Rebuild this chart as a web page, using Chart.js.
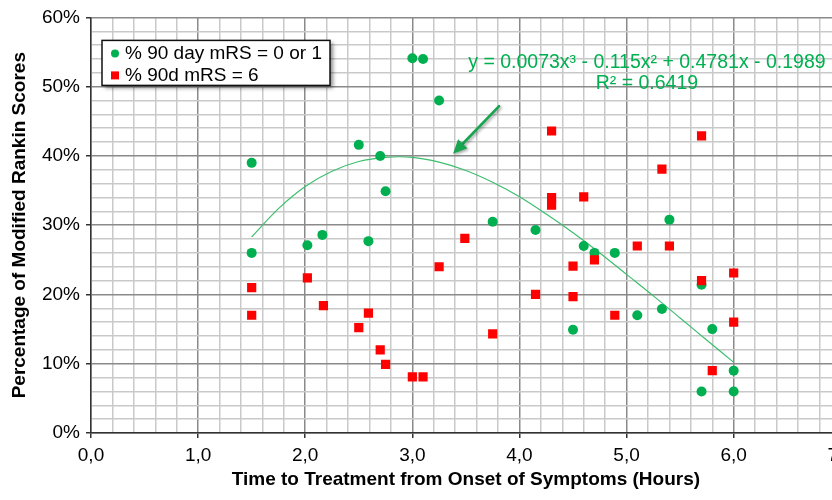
<!DOCTYPE html>
<html><head><meta charset="utf-8">
<script src="https://cdn.jsdelivr.net/npm/chart.js@4.4.1/dist/chart.umd.min.js"></script>
<style>
html,body{margin:0;padding:0;background:#fff;overflow:hidden;width:832px;height:500px;}
#wrap{position:relative;width:860px;height:500px;}
canvas{display:block;}
</style></head><body>
<div id="wrap"><canvas id="c" width="860" height="500"></canvas></div>
<script>
// ---- data ----
const seriesNames = ['% 90 day mRS = 0 or 1', '% 90d mRS = 6'];
const goodX = [1.5, 1.5, 2.02, 2.16, 2.5, 2.7, 2.75, 2.59, 3.0, 3.1, 3.25, 3.75, 4.15, 4.6, 4.7, 4.89, 4.5, 5.1, 5.33, 5.4, 5.7, 5.8, 6.0, 5.7, 6.0];
const goodY = [39.0, 26.0, 27.1, 28.6, 41.6, 40.0, 34.9, 27.7, 54.1, 54.0, 48.0, 30.5, 29.3, 27.0, 26.0, 26.0, 14.9, 17.0, 17.9, 30.8, 21.4, 15.0, 9.0, 6.0, 6.0];
const deathX = [1.5, 1.5, 2.02, 2.17, 2.5, 2.59, 2.7, 2.75, 3.0, 3.1, 3.49, 3.25, 3.75, 4.15, 4.5, 4.5, 4.3, 4.3, 4.3, 4.6, 5.33, 5.7, 5.1, 5.4, 4.7, 4.89, 5.7, 6.0, 6.0, 5.8];
const deathY = [21.0, 17.0, 22.4, 18.4, 15.2, 17.3, 12.0, 9.9, 8.1, 8.1, 28.1, 24.0, 14.3, 20.0, 24.1, 19.7, 43.6, 34.0, 32.9, 34.1, 38.1, 42.9, 27.0, 27.0, 25.0, 17.0, 22.0, 23.1, 16.0, 9.0];
const trendX = [1.5, 1.75, 2.0, 2.25, 2.5, 2.75, 3.0, 3.25, 3.5, 3.75, 4.0, 4.25, 4.5, 4.75, 5.0, 5.25, 5.5, 5.75, 6.0];
const trendY = [28.3, 32.4, 35.6, 37.8, 39.2, 39.8, 39.8, 39.1, 37.9, 36.2, 34.1, 31.6, 28.9, 26.0, 22.9, 19.8, 16.6, 13.4, 10.2];
const xTickLabels = ['0,0', '1,0', '2,0', '3,0', '4,0', '5,0', '6,0', '7,0'];
const yTickLabels = ['0%', '10%', '20%', '30%', '40%', '50%', '60%'];
const xTitle = 'Time to Treatment from Onset of Symptoms (Hours)';
const yTitle = 'Percentage of Modified Rankin Scores';
const equationText = 'y = 0.0073x³ - 0.115x² + 0.4781x - 0.1989';
const r2Text = 'R² = 0.6419';
const equationAnchor = [5.19, 53.4];
const r2Anchor = [5.19, 50.4];
const arrowTail = [3.81, 47.2];
const arrowHead = [3.38, 40.3];

const toPts = (xs, ys) => xs.map((x, i) => ({x: x, y: ys[i]}));
const GREEN = '#00B050';
const RED = '#FF0000';
const FONT = '"Liberation Sans", Arial, sans-serif';

const isMajorX = v => Math.abs(v - Math.round(v)) < 1e-6;
const isMajorY = v => Math.abs(v / 10 - Math.round(v / 10)) < 1e-6;

const overlay = {
  id: 'overlay',
  afterDatasetsDraw(chart) {
    const ctx = chart.ctx, xs = chart.scales.x, ys = chart.scales.y, a = chart.chartArea;
    // equation
    ctx.save();
    ctx.fillStyle = GREEN;
    ctx.font = '19.5px ' + FONT;
    ctx.textAlign = 'center';
    ctx.textBaseline = 'middle';
    ctx.fillText(equationText, xs.getPixelForValue(equationAnchor[0]), ys.getPixelForValue(equationAnchor[1]));
    ctx.fillText(r2Text, xs.getPixelForValue(r2Anchor[0]), ys.getPixelForValue(r2Anchor[1]));
    ctx.restore();
    // arrow
    const tx = xs.getPixelForValue(arrowTail[0]), ty = ys.getPixelForValue(arrowTail[1]);
    const hx = xs.getPixelForValue(arrowHead[0]), hy = ys.getPixelForValue(arrowHead[1]);
    const ang = Math.atan2(hy - ty, hx - tx);
    const hl = 14, hw = 6.5;
    const bx = hx - hl * Math.cos(ang), by = hy - hl * Math.sin(ang);
    ctx.save();
    ctx.shadowColor = 'rgba(0,0,0,0.35)';
    ctx.shadowBlur = 3; ctx.shadowOffsetX = 1.5; ctx.shadowOffsetY = 1.5;
    ctx.strokeStyle = '#17A550'; ctx.fillStyle = '#17A550';
    ctx.lineWidth = 2.6; ctx.lineCap = 'round';
    ctx.beginPath(); ctx.moveTo(tx, ty); ctx.lineTo(bx, by); ctx.stroke();
    ctx.beginPath();
    ctx.moveTo(hx, hy);
    ctx.lineTo(bx + hw * Math.sin(ang), by - hw * Math.cos(ang));
    ctx.lineTo(bx - hw * Math.sin(ang), by + hw * Math.cos(ang));
    ctx.closePath(); ctx.fill();
    ctx.restore();
    // legend box
    const lx = a.left + 11, ly = a.top + 23, lw = 228, lh = 45;
    ctx.save();
    ctx.shadowColor = 'rgba(0,0,0,0.45)';
    ctx.shadowBlur = 4; ctx.shadowOffsetX = 3; ctx.shadowOffsetY = 3;
    ctx.fillStyle = '#fff';
    ctx.fillRect(lx, ly, lw, lh);
    ctx.restore();
    ctx.save();
    ctx.strokeStyle = '#111'; ctx.lineWidth = 1.5;
    ctx.strokeRect(lx, ly, lw, lh);
    ctx.fillStyle = GREEN;
    ctx.beginPath(); ctx.arc(lx + 13, ly + 13, 4, 0, Math.PI * 2); ctx.fill();
    ctx.fillStyle = RED;
    ctx.fillRect(lx + 9, ly + 31, 8, 8);
    ctx.fillStyle = '#000';
    ctx.font = '19px ' + FONT;
    ctx.textAlign = 'left'; ctx.textBaseline = 'middle';
    ctx.fillText(seriesNames[0], lx + 23, ly + 13);
    ctx.fillText(seriesNames[1], lx + 23, ly + 35);
    ctx.restore();
  }
};

new Chart(document.getElementById('c'), {
  type: 'scatter',
  data: {
    datasets: [
      {label: seriesNames[1], data: toPts(deathX, deathY), pointStyle: 'rect', pointRadius: 6.5,
       backgroundColor: RED, borderColor: RED, borderWidth: 0, order: 0},
      {label: seriesNames[0], data: toPts(goodX, goodY), pointStyle: 'circle', pointRadius: 5,
       backgroundColor: GREEN, borderColor: GREEN, borderWidth: 0, order: 1},
      {label: 'trend', data: toPts(trendX, trendY), showLine: true, pointRadius: 0, borderColor: '#3DBE6E',
       borderWidth: 1.2, tension: 0.35, fill: false, order: 2}
    ]
  },
  options: {
    responsive: false, animation: false, devicePixelRatio: 1, events: [],
    layout: {padding: {top: 16, right: 19, left: 0, bottom: 0}},
    plugins: {legend: {display: false}, tooltip: {enabled: false}},
    scales: {
      x: {
        type: 'linear', min: 0, max: 7,
        afterFit: s => { s.height = 67; },
        border: {color: '#333', width: 1.5},
        grid: {
          color: c => isMajorX(c.tick.value) ? '#8a8a8a' : '#c9c9c9',
          lineWidth: 1.5, tickLength: 5,
          tickColor: c => isMajorX(c.tick.value) ? '#333' : 'rgba(0,0,0,0)'
        },
        ticks: {
          stepSize: 0.2, autoSkip: false, maxRotation: 0, padding: 6, color: '#000',
          font: {family: FONT, size: 19},
          callback: v => isMajorX(v) ? xTickLabels[Math.round(v)] : ''
        },
        title: {display: true, text: xTitle, color: '#000', font: {family: FONT, size: 19, weight: 'bold'}, padding: {top: 0, bottom: 9}}
      },
      y: {
        type: 'linear', min: 0, max: 60,
        afterFit: s => { s.width = 91; },
        border: {color: '#333', width: 1.5},
        grid: {
          color: c => isMajorY(c.tick.value) ? '#8a8a8a' : '#c9c9c9',
          lineWidth: 1.5, tickLength: 5,
          tickColor: c => isMajorY(c.tick.value) ? '#333' : 'rgba(0,0,0,0)'
        },
        ticks: {
          stepSize: 2, autoSkip: false, padding: 6, color: '#000',
          font: {family: FONT, size: 19},
          callback: v => isMajorY(v) ? yTickLabels[Math.round(v / 10)] : ''
        },
        title: {display: true, text: yTitle, color: '#000', font: {family: FONT, size: 19, weight: 'bold'}, padding: {top: 8, bottom: 0}}
      }
    }
  },
  plugins: [overlay]
});
</script>
</body></html>
